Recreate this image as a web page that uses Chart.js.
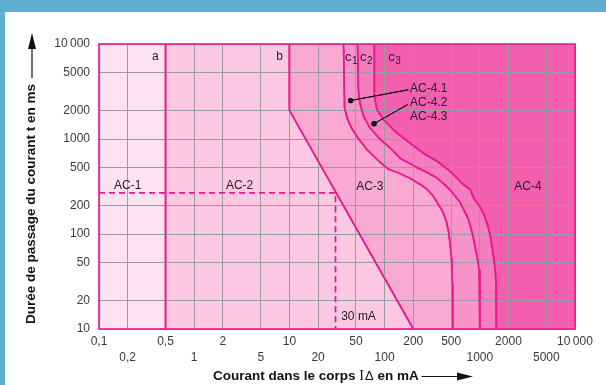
<!DOCTYPE html>
<html><head><meta charset="utf-8">
<script src="https://cdn.jsdelivr.net/npm/chart.js@4"></script>
<style>html,body{margin:0;padding:0;background:#fff}canvas{display:block}</style>
</head><body>
<canvas id="c" width="606" height="385"></canvas>
<script>
// ---- data (current in mA, duration in ms) ----
const xTickValues = [0.1,0.2,0.5,1,2,5,10,20,50,100,200,500,1000,2000,5000,10000];
const xTickRow2 = [0.2,1,5,20,100,1000,5000];
const yTickValues = [10,20,50,100,200,500,1000,2000,5000,10000];

const curveA = [[0.5,10000],[0.5,10]];
const curveB = [[10,10000],[10,2000],[200,10]];
const curveC1 = [[37,10000],[38,2100],[41,1600],[45,1300],[51,1070],[65,775],[90,566],[110,480],[140,440],[185,385],[240,330],[280,295],[320,255],[410,170],[450,130],[470,105],[490,75],[505,55],[510,35],[515,30],[520,10]];
const curveC2 = [[52,10000],[53,3300],[55,2400],[60,1740],[70,1310],[90,990],[119,775],[146,625],[180,560],[218,500],[260,460],[354,390],[420,335],[490,290],[623,214],[762,142],[850,94],[940,56],[985,42],[1000,30],[1000,10]];
const curveC3 = [[78,10000],[78,2800],[83,2050],[97,1600],[134,1160],[200,850],[260,700],[350,590],[460,480],[560,400],[650,340],[790,295],[870,235],[1000,195],[1120,155],[1220,120],[1300,92],[1350,70],[1420,50],[1460,39],[1480,30],[1490,10]];
const line30mA = [[0.1,272],[30.5,272],[30.5,10]];
const leader41 = [[44,2540],[178,3300]];
const leader42 = [[77.5,1450],[174,2300]];

const zoneLabels = [
  {text:'AC-1', x:0.2, y:325}, {text:'AC-2', x:3, y:325},
  {text:'AC-3', x:70, y:318}, {text:'AC-4', x:3200, y:318},
  {text:'a', x:0.39, y:7300}, {text:'b', x:7.9, y:7300},
  {text:'30 mA', x:35, y:13.5, align:'left'},
  {text:'AC-4.1', x:185, y:3360, align:'left'},
  {text:'AC-4.2', x:185, y:2440, align:'left'},
  {text:'AC-4.3', x:185, y:1715, align:'left'}
];
const curveLabels = [{c:'c', sub:'1', x:38.4, y:7300},{c:'c', sub:'2', x:55.2, y:7300},{c:'c', sub:'3', x:109, y:7300}];

// ---- styles ----
const C = {ac1:'#fde2ef', ac2:'#fcc8e2', ac3:'#f9aad3', ac41:'#f793c8', ac42:'#f57fbe', ac43:'#f35fae',
  line:'#ec188c', grid:'#9c9c9c', text:'#222', tick:'#3a3a3a', blue:'#60aed2'};
const FONT = "'Liberation Sans', Arial, sans-serif";
Chart.defaults.font.family = FONT;

const pts = a => a.map(p => ({x:p[0], y:p[1]}));
const topLeft = [[0.1,10000]];
function region(curve, color, order){
  return {data: pts(topLeft.concat(curve)), fill:'start', backgroundColor:color,
    borderColor:'rgba(0,0,0,0)', borderWidth:0, pointRadius:0, order:order, tension:0};
}
function boundary(curve, extra){
  return Object.assign({data: pts(curve), fill:false, borderColor:C.line, borderWidth:1.6,
    pointRadius:0, order:1, tension:0, overlay:true}, extra||{});
}

const datasets = [
  region([[10000,10000]], C.ac43, 20),
  region(curveC3, C.ac42, 19),
  region(curveC2, C.ac41, 18),
  region(curveC1, C.ac3, 17),
  region(curveB, C.ac2, 16),
  region(curveA, C.ac1, 15),
  boundary(curveA), boundary(curveB), boundary(curveC1), boundary(curveC2), boundary(curveC3),
  boundary(line30mA, {borderDash:[6,4], borderWidth:1.4}),
  boundary(leader41, {borderColor:'#111', borderWidth:1, pointRadius:[2.6,0], pointBackgroundColor:'#111', pointBorderWidth:0}),
  boundary(leader42, {borderColor:'#111', borderWidth:1, pointRadius:[2.6,0], pointBackgroundColor:'#111', pointBorderWidth:0})
];

function fmt(v){ if (v >= 10000) return '10\u2009000'; return String(v).replace('.', ','); }

const framePlugin = {
  id:'frame',
  beforeDraw(chart){
    const ctx = chart.ctx;
    ctx.save();
    ctx.fillStyle = '#fff'; ctx.fillRect(0,0,chart.width,chart.height);
    ctx.fillStyle = C.blue; ctx.fillRect(0,0,chart.width,12); ctx.fillRect(0,0,5,chart.height);
    ctx.restore();
  },
  afterDraw(chart){
    const ctx = chart.ctx, a = chart.chartArea, xs = chart.scales.x, ys = chart.scales.y;
    ctx.save();
    ctx.beginPath(); ctx.rect(a.left, a.top, a.right-a.left, a.bottom-a.top); ctx.clip();
    chart.data.datasets.forEach((ds,i) => {
      if (!ds.overlay) return;
      const meta = chart.getDatasetMeta(i);
      meta.dataset.draw(ctx, a);
      meta.data.forEach(p => p.draw(ctx, a));
    });
    ctx.restore();
    ctx.save();
    ctx.strokeStyle = C.line; ctx.lineWidth = 1.6;
    ctx.strokeRect(a.left, a.top, a.right-a.left, a.bottom-a.top);
    // labels
    ctx.fillStyle = C.text; ctx.textBaseline = 'middle';
    ctx.font = '12px ' + FONT;
    zoneLabels.forEach(l => {
      ctx.textAlign = l.align || 'center';
      ctx.fillText(l.text, xs.getPixelForValue(l.x), ys.getPixelForValue(l.y));
    });
    curveLabels.forEach(l => {
      const px = xs.getPixelForValue(l.x), py = ys.getPixelForValue(l.y);
      ctx.textAlign = 'left'; ctx.font = '13px ' + FONT;
      ctx.fillText(l.c, px, py);
      const w = ctx.measureText(l.c).width;
      ctx.font = '10px ' + FONT;
      ctx.fillText(l.sub, px + w + 0.5, py + 4);
    });
    // y axis title with arrow
    ctx.fillStyle = '#111'; ctx.strokeStyle = '#111';
    ctx.save();
    ctx.translate(31, 204); ctx.rotate(-Math.PI/2);
    ctx.font = 'bold 13.5px ' + FONT; ctx.textAlign = 'center'; ctx.textBaseline = 'middle';
    ctx.fillText('Durée de passage du courant t en ms', 0, 0);
    ctx.restore();
    ctx.lineWidth = 1.2;
    ctx.beginPath(); ctx.moveTo(32, 78); ctx.lineTo(32, 46); ctx.stroke();
    ctx.beginPath(); ctx.moveTo(32, 33); ctx.lineTo(36, 49); ctx.lineTo(28, 49); ctx.closePath(); ctx.fill();
    // x axis title with arrow
    ctx.textAlign = 'left'; ctx.textBaseline = 'middle';
    let x = 213; const y = 376;
    ctx.font = 'bold 13.5px ' + FONT; ctx.fillText('Courant dans le corps ', x, y); x += ctx.measureText('Courant dans le corps ').width;
    ctx.font = '14px "Liberation Serif", serif'; ctx.fillText('I', x, y); x += ctx.measureText('I').width + 1;
    ctx.font = '13px ' + FONT; ctx.fillText('\u0394', x, y); x += ctx.measureText('\u0394').width;
    ctx.font = 'bold 13.5px ' + FONT; ctx.fillText(' en mA', x, y); x += ctx.measureText(' en mA').width;
    ctx.beginPath(); ctx.moveTo(x + 3, y + 0.5); ctx.lineTo(460, y + 0.5); ctx.stroke();
    ctx.beginPath(); ctx.moveTo(473, y + 0.5); ctx.lineTo(457, y - 3.5); ctx.lineTo(457, y + 4.5); ctx.closePath(); ctx.fill();
    ctx.restore();
  }
};

new Chart(document.getElementById('c'), {
  type:'line',
  data:{datasets},
  plugins:[framePlugin],
  options:{
    responsive:false, animation:false, devicePixelRatio:1,
    layout:{padding:{left:0, right:31, top:44, bottom:0}},
    plugins:{legend:{display:false}, tooltip:{enabled:false}},
    elements:{line:{tension:0}},
    scales:{
      x:{type:'logarithmic', min:0.1, max:10000,
        afterBuildTicks: s => { s.ticks = xTickValues.map(v => ({value:v})); },
        afterFit: s => { s.height = 56; },
        grid:{color:C.grid, lineWidth:1, drawTicks:false, z:1},
        border:{display:false},
        ticks:{autoSkip:false, maxRotation:0, padding:5, color:C.tick, font:{size:12, lineHeight:'16px'},
          callback: v => xTickRow2.includes(v) ? ['', fmt(v)] : fmt(v)}
      },
      y:{type:'logarithmic', min:10, max:10000,
        afterBuildTicks: s => { s.ticks = yTickValues.map(v => ({value:v})); },
        afterFit: s => { s.width = 99; },
        grid:{color:C.grid, lineWidth:1, drawTicks:false, z:1},
        border:{display:false},
        ticks:{autoSkip:false, padding:9, color:C.tick, font:{size:12},
          callback: v => fmt(v)}
      }
    }
  }
});
</script>
</body></html>
